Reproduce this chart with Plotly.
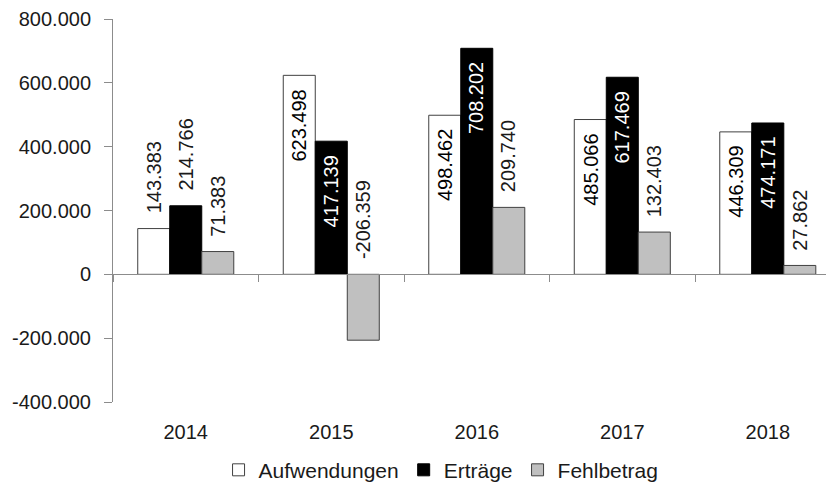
import plotly.graph_objects as go

years = ["2014", "2015", "2016", "2017", "2018"]
aufwendungen = [143383, 623498, 498462, 485066, 446309]
ertraege = [214766, 417139, 708202, 617469, 474171]
fehlbetrag = [71383, -206359, 209740, 132403, 27862]

series_names = ["Aufwendungen", "Erträge", "Fehlbetrag"]
series_values = [aufwendungen, ertraege, fehlbetrag]
fill_colors = ["#FFFFFF", "#000000", "#C0C0C0"]
line_colors = ["#404040", "#000000", "#404040"]
inside_text_colors = ["#000000", "#FFFFFF", "#000000"]

y_tickvals = [800000, 600000, 400000, 200000, 0, -200000, -400000]
y_ticktext = ["800.000", "600.000", "400.000", "200.000", "0", "-200.000", "-400.000"]

FONT = "Liberation Sans, Arial, sans-serif"
FS = 20
TXT = "#1a1a1a"
AXC = "#8c8c8c"
BARGAP = 0.34
INSIDE_MIN = 300000


def de(v):
    return f"{v:,}".replace(",", ".")


fig = go.Figure()
for name, vals, fc, lc in zip(series_names, series_values, fill_colors, line_colors):
    fig.add_trace(go.Bar(
        x=years, y=vals, name=name,
        marker=dict(color=fc, line=dict(color=lc, width=1)),
        hoverinfo="skip",
    ))

# invisible trace for the bottom category label axis
fig.add_trace(go.Scatter(x=years, y=[None] * len(years), xaxis="x2",
                         showlegend=False, hoverinfo="skip", mode="markers"))

# data labels
bw = (1 - BARGAP) / len(series_names)
annotations = []
for j, (vals, tcol) in enumerate(zip(series_values, inside_text_colors)):
    off = (j - (len(series_names) - 1) / 2) * bw
    for i, v in enumerate(vals):
        if v > INSIDE_MIN:
            annotations.append(dict(x=i + off, y=v, xref="x", yref="y", text=de(v),
                                    textangle=-90, showarrow=False, yanchor="top",
                                    xanchor="center", yshift=-12,
                                    font=dict(family=FONT, size=FS, color=tcol)))
        else:
            annotations.append(dict(x=i + off, y=max(v, 0), xref="x", yref="y", text=de(v),
                                    textangle=-90, showarrow=False, yanchor="bottom",
                                    xanchor="center", yshift=13,
                                    font=dict(family=FONT, size=FS, color=TXT)))

yr = [-400000, 800000]
xr = [-0.5, 4.455]

# page body has an 8px margin, so the figure is sized/offset to compensate
fig.update_layout(
    width=826, height=486,
    margin=dict(l=105, r=0, t=11, b=92),
    paper_bgcolor="white", plot_bgcolor="white",
    barmode="group", bargap=BARGAP, bargroupgap=0,
    font=dict(family=FONT, size=FS, color=TXT),
    showlegend=True,
    legend=dict(orientation="h", x=0.455, xanchor="center", y=-0.178, yanchor="middle",
                font=dict(family=FONT, size=21, color=TXT), itemwidth=30,
                traceorder="normal"),
    xaxis=dict(type="category", range=xr, anchor="free", position=(0 - yr[0]) / (yr[1] - yr[0]),
               showline=True, linecolor=AXC, linewidth=1, ticks="outside", tickson="boundaries",
               ticklen=7, tickcolor=AXC, showticklabels=False, showgrid=False, zeroline=False),
    xaxis2=dict(type="category", range=xr, overlaying="x", anchor="y", side="bottom",
                showline=False, ticks="", showgrid=False, zeroline=False,
                tickfont=dict(family=FONT, size=FS, color=TXT), ticklabelstandoff=16),
    yaxis=dict(range=yr, tickvals=y_tickvals, ticktext=y_ticktext, showline=True,
               linecolor=AXC, linewidth=1, ticks="outside", ticklen=8, tickcolor=AXC,
               showgrid=False, zeroline=False, ticklabelstandoff=9,
               tickfont=dict(family=FONT, size=FS, color=TXT)),
    annotations=annotations,
)

fig.write_html("out.html")
